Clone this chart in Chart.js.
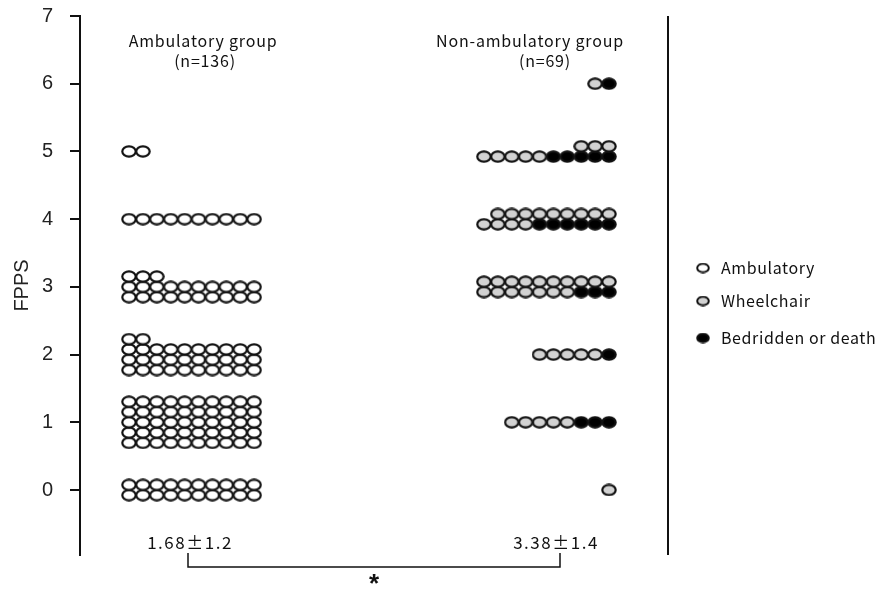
<!DOCTYPE html>
<html>
<head>
<meta charset="utf-8">
<script src="https://cdn.jsdelivr.net/npm/chart.js@4/dist/chart.umd.min.js"></script>
<style>
  body { margin: 0; background: #fff; }
</style>
</head>
<body>
<canvas id="fpps" width="893" height="591"></canvas>
<script>
// FPPS scores and how many patients sit at each one
const scores = [0, 1, 2, 3, 4, 5, 6];
const ambulatoryGroup = [20, 50, 32, 23, 10, 2, 0];       // all "Ambulatory"
const nonAmbWheelchair = [1, 5, 5, 17, 13, 8, 1];
const nonAmbBedridden = [0, 3, 1, 3, 6, 5, 1];
const yTicks = [0, 1, 2, 3, 4, 5, 6, 7];
const groupLabels = ['Ambulatory group', 'Non-ambulatory group'];
const groupN = ['(n=136)', '(n=69)'];
const groupStats = ['1.68\u00b11.2', '3.38\u00b11.4'];
const seriesNames = ['Ambulatory', 'Wheelchair', 'Bedridden or death'];

// layout of the dot stacks (x axis is just pixels across the plot)
const perRow = 10;
const colStep = 13.9;
const rowStep = 0.152;
const leftGroupStart = 49;
const rightGroupEnd = 529;

function stackLeft(counts) {
    const pts = [];
    counts.forEach((n, i) => {
        const rows = Math.ceil(n / perRow);
        for (let k = 0; k < n; k++) {
            const r = Math.floor(k / perRow);
            const c = k % perRow;
            pts.push({ x: leftGroupStart + c * colStep, y: scores[i] + (r - (rows - 1) / 2) * rowStep });
        }
    });
    return pts;
}

// right group: filled from the right, black ones first
function stackRight(first, second) {
    const a = [], b = [];
    scores.forEach((s, i) => {
        const n = first[i] + second[i];
        const rows = Math.ceil(n / perRow);
        for (let k = 0; k < n; k++) {
            const r = Math.floor(k / perRow);
            const c = k % perRow;
            const p = { x: rightGroupEnd - c * colStep, y: s + (r - (rows - 1) / 2) * rowStep };
            (k < first[i] ? a : b).push(p);
        }
    });
    return [a, b];
}

function dot(fill, w, h, lw) {
    const c = document.createElement('canvas');
    c.width = w; c.height = h;
    const g = c.getContext('2d');
    g.beginPath();
    g.ellipse(w / 2, h / 2, w / 2 - lw / 2 - 0.2, h / 2 - lw / 2 - 0.2, 0, 0, Math.PI * 2);
    g.fillStyle = fill;
    g.fill();
    g.lineWidth = lw;
    g.strokeStyle = '#111';
    g.stroke();
    return c;
}

const fills = ['#ffffff', '#d2d2d2', '#000000'];
const dots = fills.map(f => dot(f, 16, 13, 2.2));
const legendDots = fills.map(f => dot(f, 14, 11, 2));

const [blackPts, grayPts] = stackRight(nonAmbBedridden, nonAmbWheelchair);

const extras = {
    id: 'extras',
    afterDraw(chart) {
        const { ctx, chartArea, scales } = chart;
        const x = scales.x;
        ctx.save();
        // right frame line
        ctx.strokeStyle = '#111';
        ctx.lineWidth = 2;
        ctx.beginPath();
        ctx.moveTo(chartArea.right, chartArea.top);
        ctx.lineTo(chartArea.right, chartArea.bottom);
        ctx.stroke();

        ctx.fillStyle = '#111';
        ctx.textAlign = 'center';
        ctx.textBaseline = 'middle';
        ctx.letterSpacing = '0.8px';
        ctx.font = '16px "Noto Sans CJK JP"';
        ctx.fillText(groupLabels[0], x.getPixelForValue(123), 41);
        ctx.fillText(groupN[0], x.getPixelForValue(125), 61);
        ctx.fillText(groupLabels[1], x.getPixelForValue(450), 41);
        ctx.fillText(groupN[1], x.getPixelForValue(465), 61);

        ctx.letterSpacing = '1.5px';
        ctx.font = '17px "Noto Sans CJK JP"';
        ctx.fillText(groupStats[0], x.getPixelForValue(110), 543);
        ctx.fillText(groupStats[1], x.getPixelForValue(476), 543);

        // significance bracket
        const bx1 = x.getPixelForValue(108), bx2 = x.getPixelForValue(480);
        ctx.lineWidth = 1.5;
        ctx.beginPath();
        ctx.moveTo(bx1, 553);
        ctx.lineTo(bx1, 567);
        ctx.lineTo(bx2, 567);
        ctx.lineTo(bx2, 553);
        ctx.stroke();
        ctx.letterSpacing = '0px';
        ctx.font = 'bold 26px "Liberation Sans"';
        ctx.fillText('*', (bx1 + bx2) / 2, 585);

        // legend
        ctx.textAlign = 'left';
        ctx.letterSpacing = '0.6px';
        ctx.font = '16px "Noto Sans CJK JP"';
        const ly = [268, 301, 338];
        seriesNames.forEach((name, i) => {
            ctx.drawImage(legendDots[i], 696, ly[i] - 5.5);
            ctx.fillText(name, 721, ly[i]);
        });
        ctx.restore();
    }
};

new Chart(document.getElementById('fpps'), {
    type: 'scatter',
    data: {
        datasets: [
            { label: seriesNames[0], data: stackLeft(ambulatoryGroup), pointStyle: dots[0] },
            { label: seriesNames[1], data: grayPts, pointStyle: dots[1] },
            { label: seriesNames[2], data: blackPts, pointStyle: dots[2] }
        ]
    },
    options: {
        responsive: false,
        animation: false,
        layout: { padding: { left: 0, right: 225, top: 16, bottom: 36 }, autoPadding: false },
        plugins: {
            legend: { display: false },
            tooltip: { enabled: false }
        },
        scales: {
            x: { type: 'linear', min: 0, max: 588, display: false },
            y: {
                type: 'linear',
                min: -0.96,
                max: 7,
                afterBuildTicks: axis => { axis.ticks = yTicks.map(v => ({ value: v })); },
                afterFit: axis => {
                    axis.width = 80;
                    axis.paddingTop = 0;
                    axis.paddingBottom = 0;
                },
                ticks: {
                    stepSize: 1,
                    padding: 17,
                    color: '#222',
                    font: { family: '"Liberation Sans"', size: 20 }
                },
                grid: { drawOnChartArea: false, drawTicks: true, tickLength: 10, color: '#111', lineWidth: 2 },
                border: { display: true, color: '#111', width: 2 },
                title: {
                    display: true,
                    text: 'FPPS',
                    color: '#222',
                    font: { family: '"Liberation Sans"', size: 20 },
                    padding: { top: 10, bottom: 0 }
                }
            }
        }
    },
    plugins: [extras]
});
</script>
</body>
</html>
